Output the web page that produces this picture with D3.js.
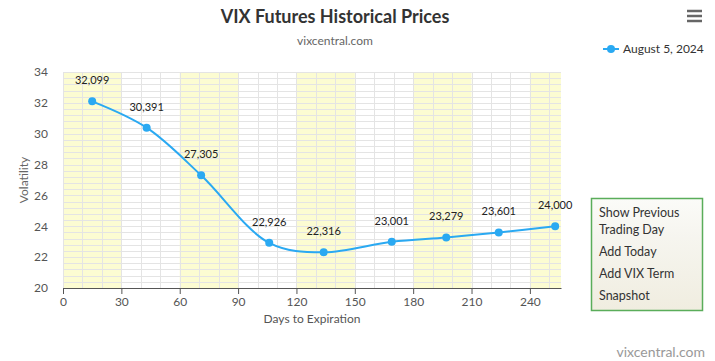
<!DOCTYPE html>
<html>
<head>
<meta charset="utf-8">
<script src="https://cdn.jsdelivr.net/npm/d3@7"></script>
<style>
  body { margin: 0; background: #fff; font-family: Lato, "Open Sans", sans-serif; }
  svg text { font-family: Lato, "Open Sans", sans-serif; }
  .axis path, .axis line { stroke: #555; }
  .axis text { fill: #555; font-size: 12px; }
</style>
</head>
<body>
<div id="chart"></div>
<script>
// data (August 5, 2024)
var days = [15, 43, 71, 106, 134, 169, 197, 224, 253];
var prices = [32.099, 30.391, 27.305, 22.926, 22.316, 23.001, 23.279, 23.601, 24.000];
var priceLabels = ["32,099", "30,391", "27,305", "22,926", "22,316", "23,001", "23,279", "23,601", "24,000"];
var xTicks = [0, 30, 60, 90, 120, 150, 180, 210, 240];
var yTicks = [20, 22, 24, 26, 28, 30, 32, 34];
var bands = [[0, 30], [60, 90], [120, 150], [180, 210], [240, 256]];
var menuItems = [["Show Previous", "Trading Day"], ["Add Today"], ["Add VIX Term"], ["Snapshot"]];

var W = 715, H = 361;
var margin = {top: 72, right: 154, bottom: 73, left: 63},
    width = W - margin.left - margin.right,
    height = H - margin.top - margin.bottom;

var x = d3.scaleLinear().domain([0, 256]).range([0, width]);
var y = d3.scaleLinear().domain([20, 34]).range([height, 0]);

var svg = d3.select("#chart").append("svg")
    .attr("width", W)
    .attr("height", H);

// title + subtitle
svg.append("text")
   .attr("x", 335).attr("y", 23)
   .attr("text-anchor", "middle")
   .style("font-size", "18px").style("font-weight", "bold").style("fill", "#333")
   .text("VIX Futures Historical Prices");

svg.append("text")
   .attr("x", 335).attr("y", 45)
   .attr("text-anchor", "middle")
   .style("font-size", "12px").style("fill", "#666")
   .text("vixcentral.com");

// hamburger menu icon
[11, 16, 21].forEach(function(yy) {
  svg.append("line")
     .attr("x1", 687).attr("x2", 702).attr("y1", yy).attr("y2", yy)
     .style("stroke", "#666").style("stroke-width", 2.5);
});

var g = svg.append("g")
    .attr("transform", "translate(" + margin.left + "," + margin.top + ")");

// alternating yellow bands
g.selectAll(".band")
  .data(bands)
  .enter().append("rect")
    .attr("x", function(d) { return x(d[0]); })
    .attr("width", function(d) { return x(d[1]) - x(d[0]); })
    .attr("y", 0)
    .attr("height", height)
    .style("fill", "#fcfcd2");

// grid lines (minor every 0.4 vol / 10 days)
g.append("g")
   .selectAll("line")
   .data(d3.range(20, 34.001, 0.4))
   .enter().append("line")
     .attr("x1", 0).attr("x2", width)
     .attr("y1", function(d) { return Math.round(y(d)) + 0.5; })
     .attr("y2", function(d) { return Math.round(y(d)) + 0.5; })
     .style("stroke", "#e4e4e4");

g.append("g")
   .selectAll("line")
   .data(d3.range(0, 257, 10))
   .enter().append("line")
     .attr("y1", 0).attr("y2", height)
     .attr("x1", function(d) { return Math.round(x(d)) + 0.5; })
     .attr("x2", function(d) { return Math.round(x(d)) + 0.5; })
     .style("stroke", "#e4e4e4");

// axes
g.append("g")
   .attr("class", "axis")
   .attr("transform", "translate(0," + height + ")")
   .call(d3.axisBottom(x).tickValues(xTicks).tickSize(6).tickSizeOuter(0).tickPadding(3));

var yAxis = g.append("g")
   .attr("class", "axis")
   .call(d3.axisLeft(y).tickValues(yTicks).tickSize(0).tickPadding(15));
yAxis.select(".domain").remove();

// axis titles
svg.append("text")
   .attr("x", margin.left + width / 2).attr("y", 323)
   .attr("text-anchor", "middle")
   .style("font-size", "12px").style("fill", "#555")
   .text("Days to Expiration");

svg.append("text")
   .attr("transform", "translate(28," + (margin.top + height / 2) + ") rotate(-90)")
   .attr("text-anchor", "middle")
   .style("font-size", "12px").style("fill", "#666")
   .text("Volatility");

// the curve
var pts = days.map(function(d, i) { return {day: d, close: prices[i], label: priceLabels[i]}; });

var priceline = d3.line()
    .x(function(d) { return x(d.day); })
    .y(function(d) { return y(d.close); })
    .curve(d3.curveCatmullRom.alpha(0.5));

g.append("path")
   .attr("d", priceline(pts))
   .style("fill", "none")
   .style("stroke", "#2aa9f2")
   .style("stroke-width", 2);

g.selectAll(".dot")
  .data(pts)
  .enter().append("circle")
    .attr("r", 4)
    .attr("cx", function(d) { return x(d.day); })
    .attr("cy", function(d) { return y(d.close); })
    .style("fill", "#2aa9f2");

g.selectAll(".lbl")
  .data(pts)
  .enter().append("text")
    .attr("x", function(d) { return x(d.day); })
    .attr("y", function(d) { return y(d.close) - 17; })
    .attr("text-anchor", "middle")
    .style("font-size", "11px").style("fill", "#222")
    .text(function(d) { return d.label; });

// legend
svg.append("line")
   .attr("x1", 603).attr("x2", 619).attr("y1", 49).attr("y2", 49)
   .style("stroke", "#2aa9f2").style("stroke-width", 2);
svg.append("circle")
   .attr("cx", 611).attr("cy", 49).attr("r", 4)
   .style("fill", "#2aa9f2");
svg.append("text")
   .attr("x", 623).attr("y", 53)
   .style("font-size", "12px").style("fill", "#333")
   .text("August 5, 2024");

// button box
var grad = svg.append("defs").append("linearGradient")
    .attr("id", "boxgrad").attr("x1", 0).attr("y1", 0).attr("x2", 0).attr("y2", 1);
grad.append("stop").attr("offset", "0%").style("stop-color", "#fbfbf8");
grad.append("stop").attr("offset", "35%").style("stop-color", "#f6f5ef");
grad.append("stop").attr("offset", "100%").style("stop-color", "#f0ede0");

svg.append("rect")
   .attr("x", 591.5).attr("y", 198.5).attr("width", 111).attr("height", 112)
   .style("fill", "url(#boxgrad)")
   .style("stroke", "#5aad5a").style("stroke-width", 1.5);

var lineY = [[217, 234], [256], [278], [300]];
menuItems.forEach(function(item, i) {
  item.forEach(function(t, j) {
    svg.append("text")
       .attr("x", 599).attr("y", lineY[i][j])
       .style("font-size", "12.5px").style("fill", "#333")
       .text(t);
  });
});

// credit
svg.append("text")
   .attr("x", 705).attr("y", 357)
   .attr("text-anchor", "end")
   .style("font-size", "14px").style("fill", "#999")
   .text("vixcentral.com");
</script>
</body>
</html>
